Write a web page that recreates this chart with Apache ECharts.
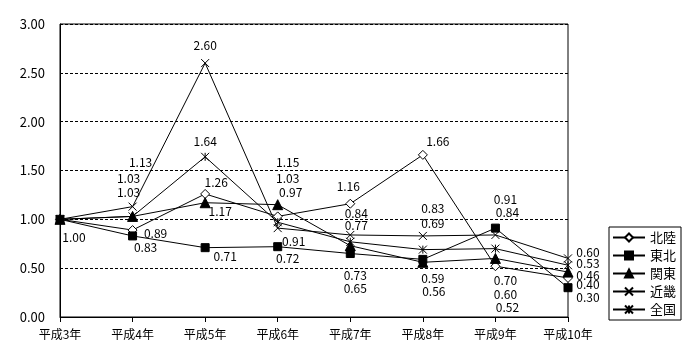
<!DOCTYPE html>
<html>
<head>
<meta charset="utf-8">
<script src="https://cdn.jsdelivr.net/npm/echarts@6/dist/echarts.min.js"></script>
<style>html,body{margin:0;padding:0;background:#fff}#c{width:700px;height:360px}</style>
</head>
<body>
<div id="c"></div>
<script>
const categories = ['平成3年','平成4年','平成5年','平成6年','平成7年','平成8年','平成9年','平成10年'];
const seriesNames = ['北陸','東北','関東','近畿','全国'];
const hokuriku = [1.00, 0.89, 1.26, 1.03, 1.16, 1.66, 0.52, 0.40];
const tohoku   = [1.00, 0.83, 0.71, 0.72, 0.65, 0.59, 0.91, 0.30];
const kanto    = [1.00, 1.03, 1.17, 1.15, 0.73, 0.56, 0.60, 0.46];
const kinki    = [1.00, 1.13, 2.60, 0.91, 0.84, 0.83, 0.84, 0.60];
const zenkoku  = [1.00, 1.03, 1.64, 0.97, 0.77, 0.69, 0.70, 0.53];
const yTicks = [0, 0.5, 1, 1.5, 2, 2.5, 3];

// label placement (pixel offsets from marker centre), kept apart from data
const labelOffsets = {
  '北陸': [[14,18],[23,3],[11,-12],[10,-38],[-2,-17],[15,-13],[12,41],[20,7]],
  '東北': [null,[13,12],[20,9],[10,12],[5,35],[10,19],[10,-29],[20,10]],
  '関東': [null,[-4,-24],[15,9],[10,-42],[5,30],[11,29],[10,36],[20,3]],
  '近畿': [null,[8,-44],[0,-18],[16,13],[6,-22],[10,-27],[12,-23],[20,-6]],
  '全国': [null,[-4,-38],[0,-15],[13,-30],[6,-16],[10,-26],[10,32],[20,-2]]
};
const symbols = {
  '北陸': {symbol:'diamond', size:9, fill:'#fff'},
  '東北': {symbol:'rect', size:8, fill:'#000'},
  '関東': {symbol:'triangle', size:10, fill:'#000'},
  '近畿': {symbol:'path://M0,0L10,10M10,0L0,10', size:8, fill:'#fff'},
  '全国': {symbol:'path://M0,0L10,10M10,0L0,10M5,0L5,10', size:8, fill:'#fff'}
};
const values = [hokuriku, tohoku, kanto, kinki, zenkoku];
const FONT = '"Noto Sans CJK JP", "DejaVu Sans", sans-serif';

const series = seriesNames.map((name, si) => {
  const offs = labelOffsets[name];
  const s = symbols[name];
  return {
    name,
    type: 'line',
    data: values[si].map((v, i) => ({
      value: v,
      label: offs[i] ? {show: true, offset: offs[i]} : {show: false}
    })),
    symbol: s.symbol,
    symbolSize: s.size,
    showAllSymbol: true,
    lineStyle: {color: '#000', width: 1},
    itemStyle: {color: s.fill, borderColor: '#000', borderWidth: 1},
    label: {
      show: true, position: 'inside', color: '#000', fontSize: 12, fontFamily: FONT,
      align: 'center', verticalAlign: 'middle',
      formatter: p => Number(p.value).toFixed(2)
    },
    emphasis: {disabled: true},
    animation: false
  };
});

const chart = echarts.init(document.getElementById('c'), null, {renderer: 'canvas'});
chart.setOption({
  backgroundColor: '#fff',
  animation: false,
  grid: {left: 60, right: 132, top: 24, bottom: 43, show: true, borderColor: '#000', borderWidth: 1, backgroundColor: 'transparent'},
  legend: {
    orient: 'vertical', left: 609, top: 227,
    data: seriesNames,
    borderColor: '#000', borderWidth: 1, padding: [4, 5, 4, 3],
    itemWidth: 32, itemHeight: 10, itemGap: 5,
    textStyle: {color: '#000', fontSize: 13, fontFamily: FONT, lineHeight: 13},
    selectedMode: false
  },
  xAxis: {
    type: 'category', data: categories, boundaryGap: false,
    axisLine: {lineStyle: {color: '#000', width: 1}},
    axisTick: {show: true, length: 5, lineStyle: {color: '#000'}, alignWithLabel: true},
    axisLabel: {color: '#000', fontSize: 12, fontFamily: FONT, margin: 11},
    splitLine: {show: false}
  },
  yAxis: {
    type: 'value', min: yTicks[0], max: yTicks[yTicks.length-1], interval: yTicks[1]-yTicks[0],
    axisLine: {show: true, lineStyle: {color: '#000', width: 1}},
    axisTick: {show: false},
    axisLabel: {color: '#000', fontSize: 13, fontFamily: FONT, margin: 15, formatter: v => v.toFixed(2)},
    splitLine: {show: true, lineStyle: {color: '#000', type: [3, 2], width: 1}}
  },
  series
});
</script>
</body>
</html>
